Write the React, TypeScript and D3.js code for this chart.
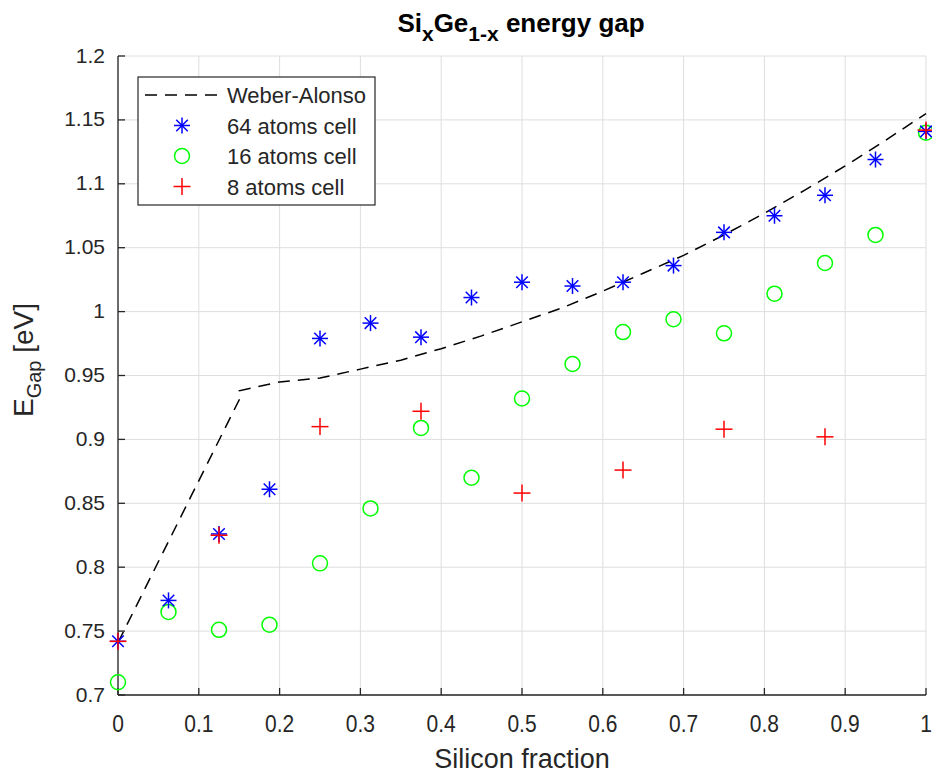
import React from "react";
import * as d3 from "d3";

// silicon fraction (1/16 steps) for the 64- and 16-atom cells
const siFraction = [
  0, 0.0625, 0.125, 0.1875, 0.25, 0.3125, 0.375, 0.4375, 0.5, 0.5625, 0.625,
  0.6875, 0.75, 0.8125, 0.875, 0.9375, 1,
];
const gap64 = [
  0.742, 0.774, 0.826, 0.861, 0.979, 0.991, 0.98, 1.011, 1.023, 1.02, 1.023,
  1.036, 1.062, 1.075, 1.091, 1.119, 1.141,
];
const gap16 = [
  0.71, 0.765, 0.751, 0.755, 0.803, 0.846, 0.909, 0.87, 0.932, 0.959, 0.984,
  0.994, 0.983, 1.014, 1.038, 1.06, 1.14,
];
// 8-atom cell only on 1/8 steps
const siFraction8 = [0, 0.125, 0.25, 0.375, 0.5, 0.625, 0.75, 0.875, 1];
const gap8 = [0.742, 0.825, 0.91, 0.922, 0.858, 0.876, 0.908, 0.902, 1.142];

// Weber-Alonso reference curve
const waFraction = [
  0, 0.15, 0.15, 0.2, 0.25, 0.3, 0.35, 0.4, 0.45, 0.5, 0.55, 0.6, 0.65, 0.7,
  0.75, 0.8, 0.85, 0.9, 0.95, 1,
];
const waGap = [
  0.741, 0.931, 0.938, 0.945, 0.948, 0.955, 0.962, 0.971, 0.981, 0.992, 1.003,
  1.016, 1.03, 1.044, 1.06, 1.077, 1.095, 1.114, 1.134, 1.155,
];

const xTicks = [0, 0.1, 0.2, 0.3, 0.4, 0.5, 0.6, 0.7, 0.8, 0.9, 1];
const yTicks = [0.7, 0.75, 0.8, 0.85, 0.9, 0.95, 1, 1.05, 1.1, 1.15, 1.2];

const legendItems = ["Weber-Alonso", "64 atoms cell", "16 atoms cell", "8 atoms cell"];

const W = 932;
const H = 776;
const FONT = "'Liberation Sans', Arial, Helvetica, sans-serif";
const AXIS = "#262626";
const GRID = "#dedede";

const Star = ({ x, y, r }: { x: number; y: number; r: number }) => {
  const d = r * 0.72;
  return (
    <g stroke="#0000ff" strokeWidth={1.5}>
      <line x1={x - r} y1={y} x2={x + r} y2={y} />
      <line x1={x} y1={y - r} x2={x} y2={y + r} />
      <line x1={x - d} y1={y - d} x2={x + d} y2={y + d} />
      <line x1={x - d} y1={y + d} x2={x + d} y2={y - d} />
    </g>
  );
};

const Plus = ({ x, y, r }: { x: number; y: number; r: number }) => (
  <g stroke="#ff0000" strokeWidth={1.5}>
    <line x1={x - r} y1={y} x2={x + r} y2={y} />
    <line x1={x} y1={y - r} x2={x} y2={y + r} />
  </g>
);

const Ring = ({ x, y, r }: { x: number; y: number; r: number }) => (
  <circle cx={x} cy={y} r={r} fill="none" stroke="#00ff00" strokeWidth={1.5} />
);

const App = () => {
  const left = 118,
    right = 926,
    top = 56,
    bottom = 695;

  const x = d3.scaleLinear().domain([0, 1]).range([left, right]);
  const y = d3.scaleLinear().domain([0.7, 1.2]).range([bottom, top]);

  const line = d3
    .line<number>()
    .x((d, i) => x(waFraction[i]))
    .y((d) => y(d));

  const fmt = (v: number) => String(+v.toFixed(2));

  // legend
  const lx = 138,
    ly = 77,
    lw = 237,
    lh = 128;
  const rowY = (i: number) => 95 + i * 30.5;
  const mx = 182;

  return (
    <svg width={W} height={H} style={{ position: "absolute", left: 0, top: 0, background: "#fff" }} fontFamily={FONT}>
      <rect width={W} height={H} fill="#fff" />
      {/* grid */}
      {xTicks.map((t) => (
        <line key={"gx" + t} x1={x(t)} x2={x(t)} y1={top} y2={bottom} stroke={GRID} strokeWidth={1} />
      ))}
      {yTicks.map((t) => (
        <line key={"gy" + t} x1={left} x2={right} y1={y(t)} y2={y(t)} stroke={GRID} strokeWidth={1} />
      ))}

      {/* axes */}
      <line x1={left} x2={right} y1={bottom} y2={bottom} stroke={AXIS} strokeWidth={1.3} />
      <line x1={left} x2={left} y1={top} y2={bottom} stroke={AXIS} strokeWidth={1.3} />
      {xTicks.map((t) => (
        <g key={"tx" + t}>
          <line x1={x(t)} x2={x(t)} y1={bottom} y2={bottom - 7} stroke={AXIS} strokeWidth={1.3} />
          <text transform={`translate(${x(t)},732) scale(1,1.13)`} textAnchor="middle" fontSize={21} fill={AXIS}>
            {fmt(t)}
          </text>
        </g>
      ))}
      {yTicks.map((t) => (
        <g key={"ty" + t}>
          <line x1={left} x2={left + 7} y1={y(t)} y2={y(t)} stroke={AXIS} strokeWidth={1.3} />
          <text x={105} y={y(t) + 6.5} textAnchor="end" fontSize={21} fill={AXIS}>
            {fmt(t)}
          </text>
        </g>
      ))}

      {/* Weber-Alonso */}
      <path d={line(waGap) || ""} fill="none" stroke="#000" strokeWidth={1.5} strokeDasharray="12,8" />

      {/* data */}
      {siFraction.map((s, i) => (
        <Ring key={"r" + i} x={x(s)} y={y(gap16[i])} r={7.5} />
      ))}
      {siFraction.map((s, i) => (
        <Star key={"s" + i} x={x(s)} y={y(gap64[i])} r={8} />
      ))}
      {siFraction8.map((s, i) => (
        <Plus key={"p" + i} x={x(s)} y={y(gap8[i])} r={8.5} />
      ))}

      {/* titles */}
      <text x={521} y={32} textAnchor="middle" fontSize={26} fontWeight="bold" fill="#000">
        Si
        <tspan dy={9} fontSize={21}>x</tspan>
        <tspan dy={-9}>Ge</tspan>
        <tspan dy={9} fontSize={21}>1-x</tspan>
        <tspan dy={-9}> energy gap</tspan>
      </text>
      <text x={522} y={768} textAnchor="middle" fontSize={27} fill={AXIS}>
        Silicon fraction
      </text>
      <text transform="translate(33,360) rotate(-90)" textAnchor="middle" fontSize={28} fill={AXIS}>
        E
        <tspan dy={8} fontSize={20}>Gap</tspan>
        <tspan dy={-8}> [eV]</tspan>
      </text>

      {/* legend */}
      <rect x={lx} y={ly} width={lw} height={lh} fill="#fff" stroke={AXIS} strokeWidth={1.2} />
      <line x1={145} x2={220} y1={rowY(0)} y2={rowY(0)} stroke="#000" strokeWidth={1.5} strokeDasharray="12,8" />
      <Star x={mx} y={rowY(1)} r={8} />
      <Ring x={mx} y={rowY(2)} r={7.5} />
      <Plus x={mx} y={rowY(3)} r={8.5} />
      {legendItems.map((t, i) => (
        <text key={t} x={227} y={rowY(i) + 8} fontSize={22} fill={AXIS}>
          {t}
        </text>
      ))}
    </svg>
  );
};

export default App;
